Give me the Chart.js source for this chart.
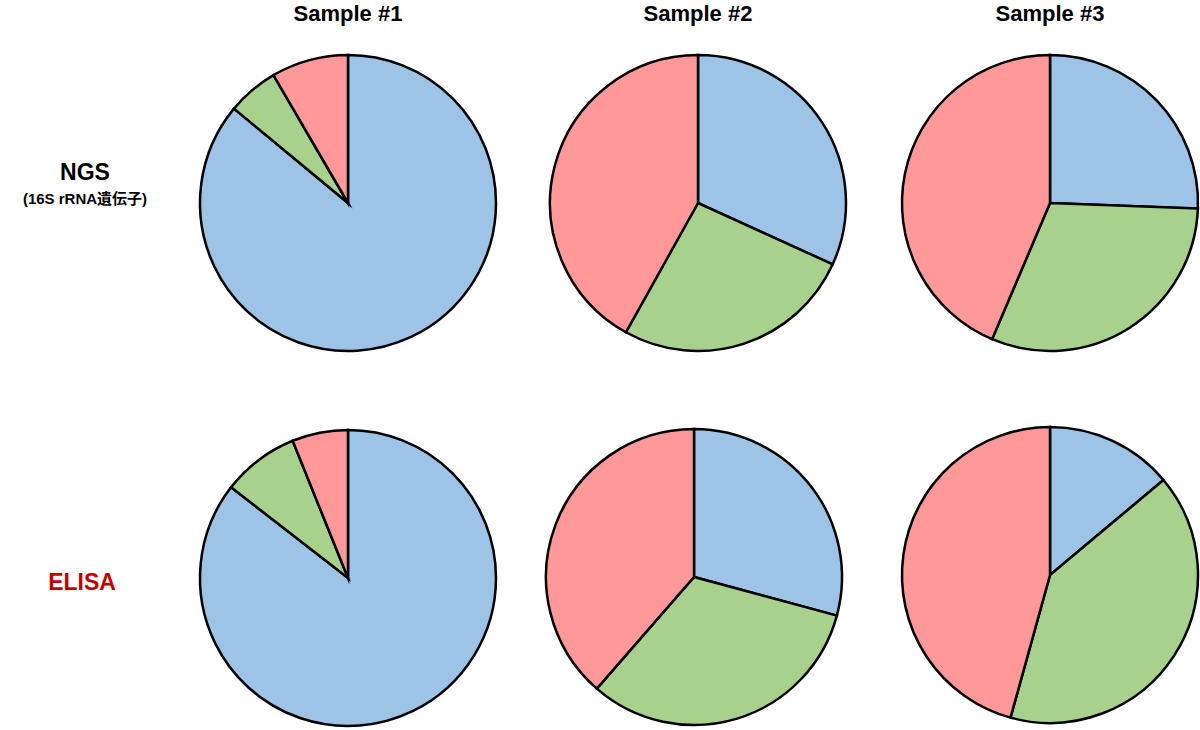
<!DOCTYPE html>
<html><head><meta charset="utf-8">
<script src="https://cdn.jsdelivr.net/npm/chart.js@4/dist/chart.umd.min.js"></script>
<style>
body{margin:0;width:1200px;height:730px;background:#fff;position:relative;font-family:Arial,"Liberation Sans","Noto Sans CJK JP",sans-serif;overflow:hidden}
.t{position:absolute;font-weight:bold;text-align:center;transform:translate(-50%,-50%);white-space:nowrap}
canvas{position:absolute}
</style></head><body>
<div class="t" style="left:348px;top:14px;font-size:22px">Sample #1</div>
<div class="t" style="left:698px;top:14px;font-size:22px">Sample #2</div>
<div class="t" style="left:1050px;top:14px;font-size:22px">Sample #3</div>
<div class="t" style="left:85px;top:172px;font-size:23px">NGS</div>
<div class="t" style="left:85px;top:197px;font-size:15px">(16S rRNA遺伝子)</div>
<div class="t" style="left:82px;top:582px;font-size:23px;color:#c00000">ELISA</div>
<script>
const categories = ["Blue","Green","Red"];
const ngsValues = [[86.0,5.6,8.4],[31.8,26.3,41.9],[25.6,30.8,43.6]];
const elisaValues = [[85.5,8.4,6.1],[29.2,32.2,38.6],[13.9,40.4,45.7]];
const colors = ["#9dc3e6","#a9d18e","#ff9999"];
const centers = [[[348,203],[698,203],[1050,203]],[[348,578],[694,577],[1050,575]]];
[ngsValues, elisaValues].forEach((rows, r) => {
  rows.forEach((vals, c) => {
    const cv = document.createElement('canvas');
    const [cx, cy] = centers[r][c];
    cv.width = 310; cv.height = 310;
    cv.style.left = (cx - 155) + 'px'; cv.style.top = (cy - 155) + 'px';
    cv.style.width = '310px'; cv.style.height = '310px';
    document.body.appendChild(cv);
    new Chart(cv, {
      type: 'pie',
      data: { labels: categories, datasets: [{ data: vals, backgroundColor: colors, borderColor: '#000', borderWidth: 2.5, borderJoinStyle: 'miter' }] },
      options: { responsive: false, animation: false, radius: 148,
        plugins: { legend: { display: false }, tooltip: { enabled: false } } }
    });
  });
});
</script>
</body></html>
